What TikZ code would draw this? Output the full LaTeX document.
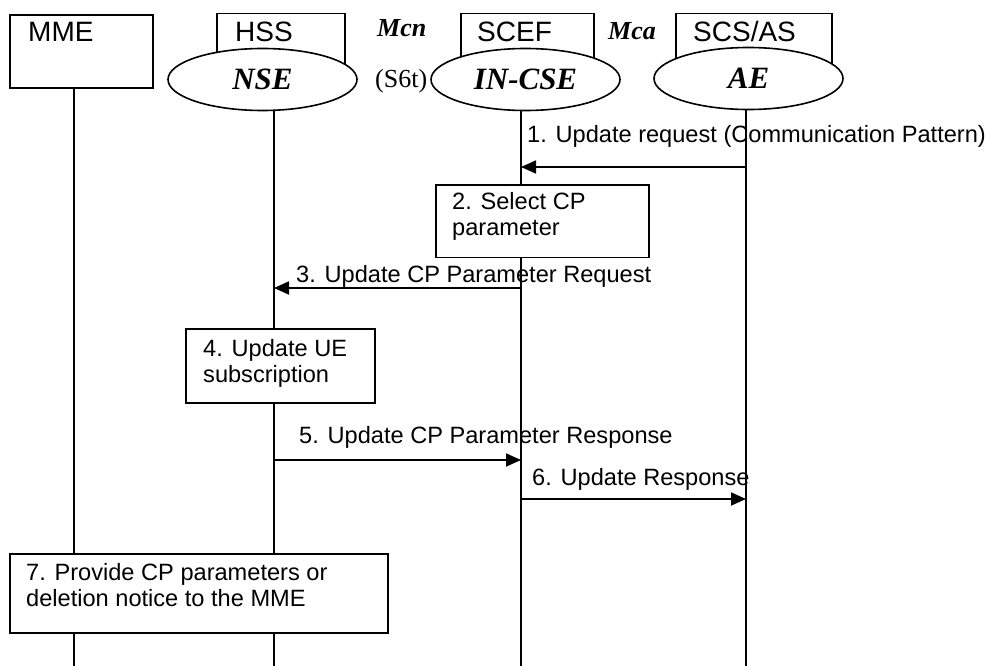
\documentclass[tikz,border=0pt]{standalone}
\usepackage{fontspec}
\setmainfont{Liberation Serif}
\setsansfont{Liberation Sans}
\usetikzlibrary{shapes.geometric,arrows.meta}
\pgfdeclarelayer{bg}
\pgfsetlayers{bg,main}
\begin{document}
\begin{tikzpicture}[x=1pt,y=-1pt,
  box/.style={draw, line width=1.6pt, fill=white, inner sep=0pt, anchor=north west},
  ent/.style={draw, ellipse, line width=1.6pt, fill=white, inner sep=0pt,
    minimum width=189pt, minimum height=62pt, font=\fontsize{31}{34}\selectfont\bfseries\itshape},
  hdr/.style={inner sep=0pt, anchor=base west, font=\fontsize{28}{32}\selectfont\sffamily},
  txt/.style={inner sep=0pt, anchor=base west, font=\fontsize{23.6}{26}\selectfont\sffamily},
  ref/.style={inner sep=0pt, anchor=base west, font=\fontsize{26}{28}\selectfont\bfseries\itshape},
  life/.style={line width=1.8pt},
  msg/.style={line width=1.8pt, -{Triangle[length=15pt,width=13pt]}}]
\useasboundingbox (0,0) rectangle (991,666);

% header boxes
\node[box, minimum width=143pt, minimum height=73pt] (mme) at (9,14) {};
\node[hdr] (mmet) at (28,42) {MME};
\node[box, minimum width=128pt, minimum height=68pt] (hss) at (216,12.7) {};
\node[hdr] (hsst) at (235,42) {HSS};
\node[box, minimum width=133pt, minimum height=68pt] (scef) at (460,12.7) {};
\node[hdr] (sceft) at (477,42) {SCEF};
\node[box, minimum width=156pt, minimum height=68pt] (scs) at (675,12.7) {};
\node[hdr] (scst) at (693,42) {SCS/AS};

% ellipses
\node[ent] (nse) at (262.5,79.5) {NSE};
\node[ent] (incse) at (525.5,79.5) {IN-CSE};
\node[ent] (ae) at (748.5,78.5) {AE};

% reference point labels
\node[ref] (mcn) at (377,37) {Mcn};
\node[ref] (mca) at (608,40) {Mca};
\node[inner sep=0pt, anchor=base west, font=\fontsize{26}{28}\selectfont] (s6t) at (375,88) {(S6t)};

% lifeline ends
\coordinate (mmeEnd) at (74,666);
\coordinate (hssEnd) at (274,666);
\coordinate (scefEnd) at (521,666);
\coordinate (aeEnd) at (746,666);

\begin{pgfonlayer}{bg}
\draw[life] (mme.south -| mmeEnd) -- (mmeEnd);
\draw[life] (nse.center -| hssEnd) -- (hssEnd);
\draw[life] (incse.center -| scefEnd) -- (scefEnd);
\draw[life] (ae.center -| aeEnd) -- (aeEnd);
\end{pgfonlayer}

% message 1
\coordinate (m1s) at (746,167);
\coordinate (m1e) at (521,167);
\draw[msg] (m1s) -- (m1e);
\node[txt] (t1) at (527,143) {1. Update request (Communication Pattern)};

% box 2
\node[box, minimum width=213pt, minimum height=72.5pt] (b2) at (435,184) {};
\node[txt] (b2a) at (452,209) {2. Select CP};
\node[txt] (b2b) at (452,235) {parameter};

% message 3
\coordinate (m3s) at (521,288);
\coordinate (m3e) at (274,288);
\draw[msg] (m3s) -- (m3e);
\node[txt] (t3) at (296,282) {3. Update CP Parameter Request};

% box 4
\node[box, minimum width=189pt, minimum height=74pt] (b4) at (185,328) {};
\node[txt] (b4a) at (203,356) {4. Update UE};
\node[txt] (b4b) at (203,382) {subscription};

% message 5
\coordinate (m5s) at (274,460);
\coordinate (m5e) at (521,460);
\draw[msg] (m5s) -- (m5e);
\node[txt] (t5) at (299,443) {5. Update CP Parameter Response};

% message 6
\coordinate (m6s) at (521,499);
\coordinate (m6e) at (746,499);
\draw[msg] (m6s) -- (m6e);
\node[txt] (t6) at (532,485) {6. Update Response};

% box 7
\node[box, minimum width=378pt, minimum height=79pt] (b7) at (9,553) {};
\node[txt] (b7a) at (26,580) {7. Provide CP parameters or};
\node[txt] (b7b) at (26,606) {deletion notice to the MME};
\end{tikzpicture}
\end{document}
